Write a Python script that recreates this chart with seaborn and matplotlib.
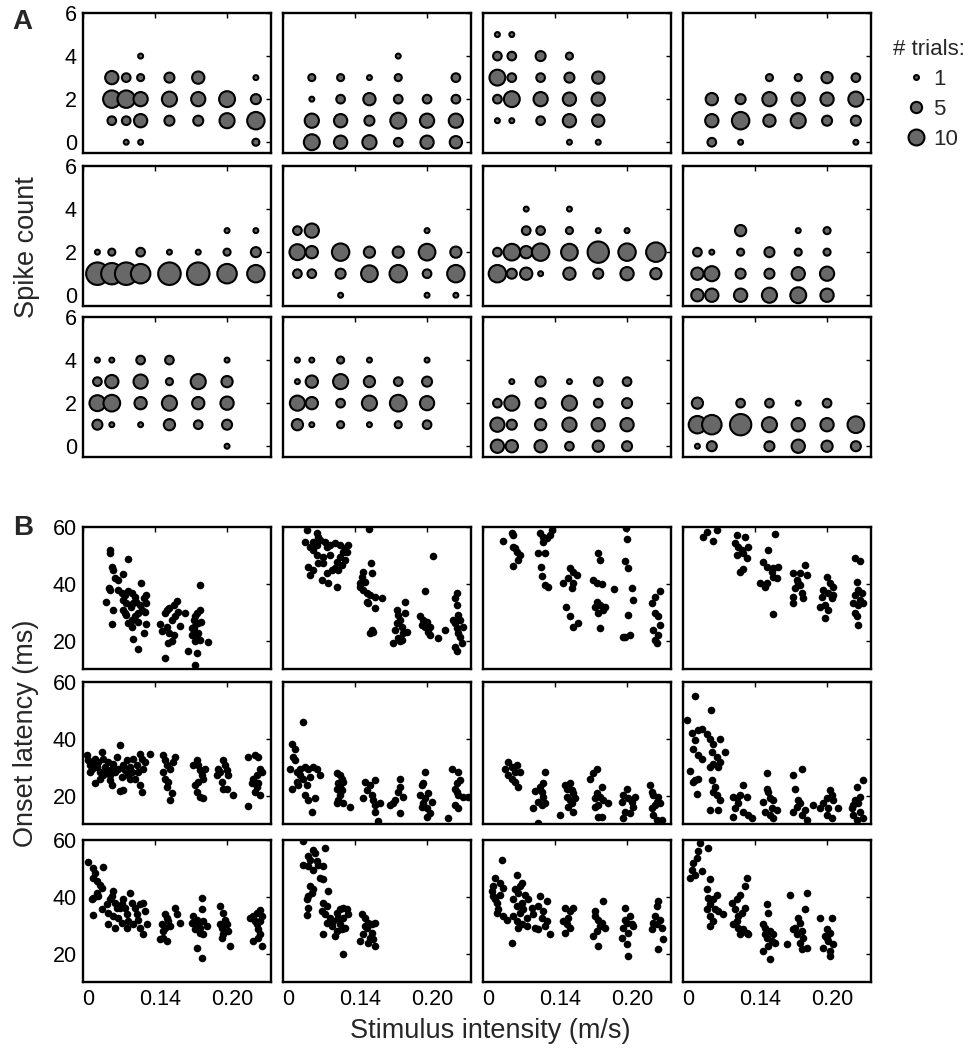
import numpy as np
import pandas as pd
import matplotlib
matplotlib.use('Agg')
import matplotlib.pyplot as plt
import matplotlib.transforms as mtransforms
from matplotlib.lines import Line2D
import seaborn as sns

# stimulus axis: level positions and labelled ticks
tick_pos = [0, 5, 10]
tick_labels = ['0', '0.14', '0.20']

# A: spike count histograms, (stimulus level, spike count, number of trials)
spikes_r1c1 = [(2,3,7),(2,2,12),(2,1,3),(3,3,3),(3,2,12),(3,1,3),(3,0,1),(4,4,1),(4,3,2),(4,2,8),(4,1,7),(4,0,1),
               (6,3,4),(6,2,9),(6,1,4),(8,3,6),(8,2,8),(8,1,4),(10,2,10),(10,1,9),(12,3,1),(12,2,4),(12,1,12),(12,0,2)]
spikes_r1c2 = [(2,3,2),(2,2,1),(2,1,8),(2,0,10),(4,3,2),(4,2,3),(4,1,7),(4,0,7),(6,3,1),(6,2,6),(6,1,4),(6,0,8),
               (8,4,1),(8,3,2),(8,2,3),(8,1,10),(8,0,3),(10,2,3),(10,1,8),(10,0,7),(12,3,3),(12,2,3),(12,1,8),(12,0,6)]
spikes_r1c3 = [(1,5,1),(1,4,3),(1,3,10),(1,2,3),(1,1,1),(2,5,1),(2,4,3),(2,3,3),(2,2,10),(2,1,1),(4,4,4),(4,3,3),
               (4,2,8),(4,1,3),(6,4,2),(6,3,4),(6,2,7),(6,1,7),(6,0,1),(8,3,6),(8,2,7),(8,1,6),(8,0,1)]
spikes_r1c4 = [(2,2,6),(2,1,7),(2,0,3),(4,2,4),(4,1,12),(4,0,1),(6,3,2),(6,2,8),(6,1,6),(8,3,2),(8,2,7),(8,1,9),
               (10,3,5),(10,2,7),(10,1,4),(12,3,3),(12,2,9),(12,1,4),(12,0,1)]
spikes_r2c1 = [(1,2,1),(1,1,20),(2,2,2),(2,1,18),(3,1,20),(4,2,3),(4,1,15),(6,2,1),(6,1,20),(8,2,1),(8,1,20),
               (10,3,1),(10,2,2),(10,1,15),(12,3,1),(12,2,4),(12,1,12)]
spikes_r2c2 = [(1,3,3),(1,2,10),(1,1,3),(2,3,8),(2,2,6),(2,1,3),(4,2,12),(4,1,4),(4,0,1),(6,2,5),(6,1,11),
               (8,2,5),(8,1,12),(10,3,1),(10,2,11),(10,1,3),(10,0,1),(12,2,5),(12,1,12),(12,0,1)]
spikes_r2c3 = [(1,2,3),(1,1,12),(2,2,11),(2,1,4),(3,4,1),(3,3,3),(3,2,6),(3,1,6),(4,3,3),(4,2,12),(4,1,1),
               (6,4,1),(6,3,2),(6,2,11),(6,1,6),(8,3,1),(8,2,18),(8,1,4),(10,3,1),(10,2,12),(10,1,7),(12,2,15),(12,1,5)]
spikes_r2c4 = [(1,2,3),(1,1,6),(1,0,6),(2,2,1),(2,1,9),(2,0,7),(4,3,5),(4,2,2),(4,1,4),(4,0,7),(6,2,4),(6,1,4),
               (6,0,9),(8,3,1),(8,2,2),(8,1,7),(8,0,10),(10,3,2),(10,2,2),(10,1,8),(10,0,7)]
spikes_r3c1 = [(1,4,1),(1,3,3),(1,2,10),(1,1,4),(2,4,1),(2,3,7),(2,2,11),(2,1,1),(4,4,3),(4,3,8),(4,2,6),(4,1,1),
               (6,4,3),(6,3,2),(6,2,9),(6,1,5),(8,3,9),(8,2,6),(8,1,3),(10,4,1),(10,3,5),(10,2,7),(10,1,4),(10,0,1)]
spikes_r3c2 = [(1,4,1),(1,3,1),(1,2,9),(1,1,5),(2,4,1),(2,3,6),(2,2,6),(2,1,1),(4,4,2),(4,3,9),(4,2,3),(4,1,2),
               (6,4,1),(6,3,5),(6,2,9),(6,1,1),(8,3,3),(8,2,11),(8,1,2),(10,4,1),(10,3,4),(10,2,8),(10,1,3)]
spikes_r3c3 = [(1,2,3),(1,1,8),(1,0,7),(2,3,1),(2,2,9),(2,1,4),(2,0,6),(4,3,4),(4,2,4),(4,1,5),(4,0,6),(6,3,1),
               (6,2,9),(6,1,8),(6,0,3),(8,3,3),(8,2,3),(8,1,7),(8,0,5),(10,3,3),(10,2,4),(10,1,7),(10,0,4)]
spikes_r3c4 = [(1,2,5),(1,1,12),(1,0,1),(2,1,15),(2,0,4),(4,2,3),(4,1,18),(6,2,3),(6,1,9),(6,0,4),(8,2,1),
               (8,1,7),(8,0,7),(10,2,3),(10,1,7),(10,0,5),(12,1,11),(12,0,4)]

# B: onset latency of single trials, (stimulus level, latency in ms)
latency_r1c1 = [(1.9,51.9),(1.9,51.0),(3.1,48.7),(2.0,46.0),(2.1,44.9),(2.8,43.4),(2.2,42.0),(2.4,41.4),(1.8,38.4),
    (1.9,37.8),(4.0,40.2),(1.6,33.5),(2.1,30.8),(2.0,25.9),(2.45,37.8),(2.7,36.7),(2.9,36.1),(3.15,37.3),(3.4,36.7),
    (3.6,35.5),(2.8,34.3),(3.0,33.2),(3.3,32.0),(3.5,33.2),(3.7,33.7),(3.96,32.6),(4.2,34.9),(4.4,36.1),(4.4,33.2),
    (4.3,30.2),(4.1,30.8),(3.8,29.6),(3.6,28.5),(3.4,27.3),(3.15,26.1),(3.4,24.9),(2.8,30.8),(2.9,29.6),(3.0,29.1),
    (3.8,26.7),(4.4,25.9),(3.5,20.5),(3.8,17.1),(4.2,22.8),(5.35,25.9),(5.5,23.4),(5.7,29.6),(5.8,30.8),(6.0,31.4),
    (6.3,32.6),(6.5,34.1),(6.4,28.5),(6.2,27.3),(5.8,24.9),(6.0,22.6),(6.3,22.0),(5.9,19.1),(6.2,19.7),(5.7,14.0),
    (6.7,25.3),(7.1,29.6),(6.6,30.2),(7.7,27.3),(7.8,28.5),(7.9,29.6),(8.1,30.8),(8.0,26.1),(7.7,24.9),(7.8,23.2),
    (8.0,22.6),(7.9,21.4),(8.1,20.3),(7.8,19.7),(7.55,22.0),(8.1,39.6),(8.7,19.4),(7.3,16.2),(7.9,15.8),(7.8,11.4),
    (8.2,26.7),(7.55,24.4)]
latency_r1c2 = [(1.64,58.9),(2.34,57.8),(2.45,56.6),(2.11,54.8),(1.88,53.1),(2.11,51.9),(2.34,53.7),(2.57,55.4),
    (2.92,54.8),(3.03,53.1),(3.26,53.7),(3.61,54.3),(3.96,53.7),(4.31,52.5),(4.54,53.7),(4.19,51.3),(3.96,49.6),
    (3.73,47.8),(4.07,46.6),(3.84,44.9),(3.61,45.5),(3.38,44.9),(3.03,43.7),(2.80,47.2),(2.45,47.2),(2.11,44.9),
    (1.88,43.1),(2.69,41.4),(3.15,40.2),(3.73,39.0),(1.53,54.8),(1.76,46.0),(2.80,49.6),(2.34,50.2),(3.26,50.2),
    (4.31,48.4),(4.42,51.3),(6.0,59.2),(6.09,47.2),(5.58,44.3),(5.46,42.5),(5.35,39.0),(5.58,37.8),(5.81,36.7),
    (6.04,36.1),(6.39,35.5),(6.85,34.9),(6.16,43.7),(5.81,33.7),(5.93,33.2),(6.39,31.4),(6.16,23.8),(6.04,22.6),
    (6.27,23.2),(5.35,40.2),(5.69,40.8),(8.47,33.7),(7.89,30.8),(8.01,29.1),(8.13,27.3),(8.24,24.9),(8.36,22.6),
    (7.89,26.1),(7.78,23.8),(7.66,19.1),(8.01,20.8),(8.24,20.3),(8.13,19.7),(8.59,23.2),(8.47,29.6),(10.44,49.9),
    (9.86,37.5),(9.51,28.5),(9.75,27.3),(9.98,26.7),(10.21,24.9),(10.09,23.2),(9.86,24.9),(9.63,25.5),(10.21,22.0),
    (10.79,20.8),(11.25,23.8),(12.06,36.7),(11.94,34.9),(12.06,32.6),(12.18,29.1),(12.29,27.3),(11.94,26.1),
    (12.06,24.4),(12.18,22.6),(12.29,21.4),(12.41,19.1),(11.94,17.9),(12.06,16.2),(12.52,24.9),(11.83,27.3)]
latency_r1c3 = [(1.41,55.1),(1.99,57.8),(2.11,57.2),(2.11,53.1),(2.22,52.5),(2.34,51.3),(2.57,50.2),(2.45,48.4),
    (2.11,46.3),(3.96,57.8),(4.19,56.6),(4.42,56.0),(4.65,57.2),(4.77,58.9),(4.19,54.8),(3.84,50.7),(4.31,50.7),
    (4.03,45.8),(4.07,42.9),(4.31,39.6),(4.54,39.0),(5.58,40.2),(5.93,41.9),(6.04,45.5),(6.27,44.3),(6.50,43.1),
    (6.27,40.2),(6.16,38.4),(5.76,31.7),(6.04,28.5),(6.27,24.9),(6.62,26.1),(7.66,41.4),(7.89,40.2),(8.24,40.0),
    (8.01,50.7),(8.13,48.4),(7.89,33.7),(7.78,32.0),(8.13,32.6),(8.36,30.8),(8.47,32.0),(8.01,29.6),(8.13,24.4),
    (9.93,59.8),(9.98,55.7),(9.86,48.0),(10.05,45.5),(10.32,38.4),(10.39,34.3),(10.09,29.1),(9.86,21.4),(10.21,22.0),
    (9.75,21.4),(9.12,38.2),(12.29,37.5),(11.94,35.5),(11.71,33.2),(11.94,29.6),(12.18,28.5),(12.29,25.5),
    (11.83,23.8),(11.94,20.3),(12.06,19.1),(12.18,22.0)]
latency_r1c4 = [(1.64,58.4),(1.41,56.4),(2.11,55.2),(2.34,58.9),(3.73,57.2),(4.31,56.6),(3.61,54.3),(3.84,53.1),
    (4.07,51.9),(3.73,50.2),(4.19,50.7),(4.42,49.0),(4.54,53.1),(3.96,44.3),(4.19,45.1),(6.39,57.4),(5.93,51.9),
    (5.58,47.8),(5.81,46.0),(6.27,45.5),(6.62,46.0),(6.16,44.3),(6.50,41.9),(6.27,42.5),(5.35,40.4),(5.69,39.0),
    (5.81,40.2),(6.23,29.4),(7.66,43.9),(8.13,43.7),(8.47,46.6),(8.59,43.1),(7.89,41.4),(8.13,39.6),(7.78,38.4),
    (8.24,36.7),(7.66,35.5),(8.36,34.9),(7.66,33.2),(8.01,40.2),(9.98,42.5),(10.21,40.2),(10.44,39.0),(9.75,37.8),
    (10.09,36.7),(9.63,35.5),(10.32,34.9),(9.86,32.6),(9.51,32.0),(9.86,27.9),(10.09,30.8),(10.44,36.1),(11.94,49.0),
    (12.29,48.0),(12.06,40.8),(12.18,37.8),(11.94,36.1),(12.41,36.7),(11.83,33.2),(12.52,33.4),(12.18,32.6),
    (11.94,29.6),(12.06,28.5),(12.18,25.5),(12.29,34.3)]
latency_r2c1 = [(0.25,34.2),(0.37,32.5),(0.49,30.7),(0.60,29.5),(0.72,31.3),(0.83,33.0),(0.95,30.1),(1.06,31.9),
    (1.18,28.4),(1.30,35.4),(1.41,33.0),(1.53,30.1),(1.64,29.0),(1.76,31.9),(1.88,27.2),(1.99,29.5),(2.11,31.3),
    (2.22,28.4),(2.34,33.6),(2.45,29.5),(2.57,37.7),(2.69,26.6),(2.80,30.7),(2.92,29.0),(3.03,32.5),(3.15,27.2),
    (3.26,30.1),(3.38,28.4),(3.50,33.0),(3.61,26.0),(3.73,30.7),(3.84,28.4),(3.96,34.8),(4.07,33.0),(4.19,29.5),
    (4.31,31.9),(4.65,34.8),(0.83,24.3),(1.99,23.7),(2.57,21.6),(2.80,22.0),(3.96,23.7),(4.07,21.4),(0.49,28.4),
    (1.18,26.0),(1.88,25.5),(3.26,26.0),(1.41,27.2),(5.69,32.5),(5.81,30.7),(6.04,29.5),(6.39,33.6),(5.58,28.4),
    (5.69,26.0),(5.93,24.9),(5.81,23.1),(6.16,20.8),(6.04,18.5),(6.27,31.9),(5.58,34.2),(7.89,32.5),(8.01,30.7),
    (8.13,29.0),(8.24,27.2),(8.36,26.0),(8.01,24.9),(7.78,23.7),(7.89,21.4),(8.13,19.6),(8.36,19.0),(8.47,29.5),
    (7.66,30.7),(9.40,29.5),(9.51,28.4),(9.75,32.5),(9.86,30.7),(9.98,29.0),(10.09,27.2),(9.63,24.9),(9.75,22.5),
    (9.98,22.5),(10.39,20.2),(9.28,27.2),(11.48,33.6),(11.94,34.2),(12.18,33.6),(12.29,29.5),(12.41,28.4),
    (12.06,27.2),(11.83,26.0),(11.71,24.3),(12.18,24.3),(11.94,21.4),(12.29,20.2),(12.06,23.1),(11.44,16.4)]
latency_r2c2 = [(1.41,45.9),(0.60,38.3),(0.83,36.5),(0.72,33.6),(0.49,29.5),(0.95,28.4),(1.18,29.5),(1.53,30.1),
    (1.76,29.5),(2.11,30.1),(2.34,29.5),(2.57,27.2),(1.88,26.6),(1.41,26.0),(0.95,24.9),(0.60,22.5),(1.06,23.7),
    (1.64,23.7),(1.53,20.2),(1.76,18.5),(1.99,14.4),(2.22,19.0),(0.83,32.5),(1.18,27.2),(3.73,27.8),(3.96,27.2),
    (4.07,26.0),(3.84,24.3),(4.19,24.9),(3.73,22.5),(4.07,22.0),(3.96,20.2),(3.84,18.5),(3.73,17.3),(4.19,17.3),
    (4.65,16.1),(3.96,23.1),(5.69,24.9),(6.04,23.7),(6.39,25.5),(5.81,22.0),(6.16,20.2),(5.58,19.0),(6.27,18.5),
    (6.39,16.7),(6.39,14.4),(6.62,11.0),(6.74,17.5),(7.43,16.7),(7.66,17.3),(8.01,21.4),(8.13,23.1),(8.36,19.6),
    (7.78,18.5),(8.13,26.0),(8.13,13.8),(9.86,28.4),(9.75,24.3),(9.63,23.7),(9.51,20.2),(9.86,19.0),(10.09,20.8),
    (10.32,17.9),(9.75,17.3),(9.98,15.5),(10.21,13.8),(9.98,12.6),(9.63,16.1),(11.48,12.0),(11.71,29.5),(12.18,28.4),
    (12.29,25.5),(12.06,24.3),(11.94,22.5),(12.18,20.2),(12.52,19.6),(12.87,19.4),(11.94,16.7),(12.18,15.5),
    (12.06,21.4)]
latency_r2c3 = [(1.76,31.9),(1.53,29.5),(1.99,30.1),(2.34,30.7),(2.57,28.4),(1.76,27.2),(1.99,26.0),(2.22,24.9),
    (2.45,23.1),(2.22,28.4),(4.31,28.4),(4.19,24.3),(3.96,23.1),(4.07,21.4),(3.61,21.6),(4.19,19.6),(3.84,17.9),
    (3.50,15.5),(4.07,16.7),(4.31,17.3),(3.84,10.3),(5.69,23.7),(6.04,24.3),(6.16,22.0),(6.27,20.8),(5.81,19.6),
    (6.04,18.5),(6.39,19.0),(6.16,17.3),(5.93,16.1),(6.27,14.4),(5.35,13.2),(5.81,22.2),(7.89,29.5),(7.66,27.8),
    (7.43,26.0),(8.24,23.1),(7.89,20.8),(7.78,19.0),(8.13,19.6),(8.36,18.5),(8.01,16.7),(7.78,16.1),(8.01,12.6),
    (8.24,12.6),(8.70,17.3),(9.98,22.5),(9.75,20.2),(10.09,19.0),(9.63,17.9),(10.32,17.9),(10.44,16.1),(9.86,14.4),
    (10.21,13.8),(9.75,12.0),(10.56,19.6),(11.60,23.7),(11.71,21.4),(11.83,20.2),(12.18,19.6),(12.06,17.9),
    (11.94,16.7),(12.29,17.3),(11.71,15.5),(11.83,13.2),(12.06,11.5),(12.41,11.5)]
latency_r2c4 = [(0.83,55.0),(1.92,50.2),(0.25,46.7),(0.60,42.1),(1.06,43.0),(1.30,43.5),(0.83,39.5),(0.72,36.5),
    (1.06,34.2),(1.30,33.0),(1.64,41.8),(1.88,40.0),(2.11,38.3),(2.57,40.0),(2.92,35.4),(1.99,35.4),(2.34,33.6),
    (2.57,31.9),(2.11,31.3),(2.45,30.1),(0.49,28.6),(0.83,25.5),(1.06,26.0),(0.72,24.9),(1.88,30.1),(1.99,25.5),
    (2.22,23.1),(2.11,21.4),(2.34,20.2),(2.57,18.5),(0.95,20.4),(1.88,15.0),(2.41,15.0),(3.50,19.6),(3.73,19.0),
    (3.96,20.2),(4.19,23.7),(4.42,19.6),(3.84,17.3),(3.61,15.5),(4.19,14.4),(3.50,12.6),(4.54,13.2),(4.77,12.0),
    (5.86,28.0),(5.81,22.5),(5.93,21.4),(6.04,19.0),(6.27,18.5),(5.58,17.9),(6.16,15.5),(6.50,15.0),(6.04,13.2),
    (6.27,12.0),(5.69,14.4),(7.66,27.2),(8.24,29.5),(7.78,22.5),(8.01,18.5),(8.13,17.3),(7.89,16.1),(8.47,15.0),
    (7.66,14.4),(8.24,13.2),(8.59,11.5),(9.05,16.7),(10.21,22.0),(9.98,19.0),(10.32,20.2),(10.44,18.5),(9.75,17.3),
    (10.09,15.5),(10.79,15.5),(9.98,13.2),(9.51,15.5),(10.32,12.0),(12.52,25.5),(12.06,23.1),(12.29,19.6),
    (11.94,18.5),(12.18,17.3),(11.71,15.5),(12.29,14.4),(11.83,13.2),(12.52,12.0),(12.06,11.5),(11.83,16.7)]
latency_r3c1 = [(0.37,52.2),(0.72,50.2),(0.83,48.4),(0.72,46.7),(0.95,45.5),(1.18,44.3),(1.30,43.2),(0.95,41.4),
    (0.72,39.6),(0.60,39.1),(1.06,40.2),(1.41,50.4),(0.72,33.5),(1.30,35.6),(1.64,37.3),(1.88,39.1),(1.99,40.2),
    (2.11,42.0),(2.22,37.9),(2.34,36.1),(1.76,34.4),(2.11,33.2),(1.76,30.3),(2.22,29.1),(2.57,36.1),(2.69,37.3),
    (2.80,39.1),(2.92,36.1),(3.03,33.8),(3.15,31.5),(3.26,41.4),(3.38,37.9),(3.61,36.1),(3.73,33.8),(3.84,32.0),
    (3.96,29.1),(4.19,26.8),(4.42,30.3),(4.19,37.9),(4.31,35.0),(3.03,29.1),(2.69,30.9),(3.50,30.3),(3.96,37.3),
    (2.45,32.6),(5.35,25.0),(5.58,25.6),(5.46,30.3),(5.69,33.8),(5.81,32.6),(5.93,31.5),(6.04,29.7),(6.39,36.1),
    (6.50,33.8),(6.74,30.9),(5.69,29.1),(5.81,24.4),(5.58,28.0),(7.66,33.2),(7.89,32.0),(8.01,30.3),(8.13,29.1),
    (8.24,35.6),(8.24,39.6),(8.36,31.5),(8.59,29.7),(7.78,28.5),(8.13,27.4),(8.36,26.8),(7.89,22.1),(8.24,18.6),
    (7.55,30.9),(9.51,36.7),(9.75,34.4),(9.86,32.0),(9.98,30.3),(10.09,28.0),(9.63,29.1),(9.75,26.8),(9.51,30.3),
    (10.21,22.7),(9.63,25.6),(11.60,32.6),(11.83,33.2),(12.06,34.4),(12.29,35.2),(12.41,33.2),(12.06,30.3),
    (12.18,28.5),(12.29,26.8),(12.18,25.6),(11.83,24.4),(12.41,22.7),(11.94,31.5),(12.29,31.5)]
latency_r3c2 = [(1.41,59.8),(2.11,56.6),(2.22,55.4),(1.76,54.3),(1.88,53.1),(2.34,52.5),(1.41,51.3),(1.76,50.8),
    (2.11,49.6),(2.45,51.3),(2.80,50.8),(2.92,57.2),(2.57,46.7),(2.80,46.1),(1.88,43.7),(2.11,42.6),(1.76,40.2),
    (1.64,39.1),(1.99,41.4),(1.76,36.1),(1.64,33.6),(3.15,42.0),(2.80,37.9),(3.03,36.7),(2.69,35.0),(2.92,33.8),
    (3.26,32.6),(3.50,31.5),(3.73,34.4),(3.96,35.6),(4.19,36.1),(4.42,35.6),(4.54,33.8),(4.19,32.6),(3.96,30.3),
    (4.31,29.1),(3.73,28.0),(3.38,29.7),(3.03,30.9),(3.61,26.2),(2.80,27.0),(4.19,20.0),(4.07,28.5),(3.84,32.6),
    (5.46,33.8),(5.69,32.6),(5.93,30.9),(6.16,30.3),(6.39,30.9),(5.81,29.1),(6.16,27.4),(5.58,26.8),(6.27,25.0),
    (5.35,24.4),(5.93,23.9),(6.39,22.7),(6.04,25.6),(5.69,29.7)]
latency_r3c3 = [(1.30,52.9),(0.83,46.7),(0.72,43.7),(0.60,42.0),(0.72,40.2),(0.83,39.1),(0.95,37.9),(1.18,44.9),
    (1.41,43.2),(1.18,40.8),(1.06,35.6),(1.41,33.2),(0.95,34.4),(2.34,47.8),(2.69,44.9),(2.22,42.6),(2.45,41.4),
    (2.57,43.7),(2.11,39.1),(2.34,36.7),(2.69,37.9),(2.92,40.8),(3.15,39.1),(2.57,34.4),(2.11,33.2),(2.80,35.6),
    (3.03,32.6),(2.34,31.5),(2.69,30.3),(3.03,29.7),(1.99,23.9),(2.45,29.1),(1.64,32.0),(3.38,36.1),(3.50,33.8),
    (3.96,40.2),(4.42,38.5),(3.84,36.7),(4.19,35.0),(4.07,32.6),(4.42,31.5),(4.31,29.7),(3.84,28.5),(4.65,26.8),
    (3.61,29.1),(5.69,36.1),(6.04,35.0),(5.93,32.6),(5.81,30.3),(6.04,29.1),(5.69,27.4),(6.27,36.1),(5.58,31.5),
    (7.78,35.0),(8.36,38.5),(8.01,32.0),(8.13,29.7),(7.89,28.0),(8.47,29.1),(8.24,30.9),(7.66,26.2),(8.01,22.7),
    (7.78,33.2),(9.86,36.1),(10.21,33.2),(9.98,30.9),(10.44,29.7),(9.75,29.1),(10.09,27.4),(10.32,30.3),(9.63,25.6),
    (9.98,23.3),(10.09,19.2),(9.86,32.0),(12.18,38.5),(12.06,36.7),(11.94,33.2),(12.29,32.0),(12.06,30.3),
    (11.71,28.5),(12.41,29.1),(12.52,25.0),(12.18,21.5),(11.83,30.9)]
latency_r3c4 = [(1.18,58.9),(1.06,56.0),(0.95,53.7),(0.72,51.9),(0.60,49.6),(0.83,47.8),(0.49,46.7),(1.30,49.0),
    (1.76,57.2),(1.88,46.1),(1.64,42.6),(1.76,39.6),(1.88,37.3),(2.11,39.1),(2.34,40.8),(1.64,35.6),(1.88,33.2),
    (2.11,31.5),(1.88,29.7),(2.45,35.0),(2.80,33.8),(2.22,35.6),(3.38,37.9),(3.73,39.1),(3.96,40.8),(4.31,43.7),
    (4.42,46.7),(3.61,35.6),(3.84,33.2),(4.07,34.4),(4.31,36.1),(3.73,31.5),(3.84,29.1),(4.19,28.5),(4.42,27.4),
    (4.54,26.8),(3.96,26.8),(3.50,30.3),(5.58,30.3),(5.81,37.3),(5.93,34.4),(5.69,29.1),(6.04,28.0),(6.27,26.8),
    (5.81,25.6),(6.16,24.4),(5.93,22.7),(5.58,20.9),(6.39,23.9),(6.04,18.0),(5.69,26.8),(7.43,40.8),(8.59,41.4),
    (8.47,35.6),(8.01,32.6),(8.13,30.9),(7.78,29.1),(8.24,28.0),(7.89,26.8),(8.36,25.6),(8.13,23.9),(8.59,22.1),
    (8.24,21.5),(7.20,23.3),(7.66,28.5),(9.51,32.6),(10.32,32.6),(9.98,28.5),(10.21,27.4),(9.86,26.2),(10.09,24.4),
    (10.44,23.3),(9.75,22.1),(10.21,20.9),(10.21,19.2),(9.98,25.6)]

legend_counts = [1, 5, 10]

spike_panels = [[spikes_r1c1, spikes_r1c2, spikes_r1c3, spikes_r1c4],
                [spikes_r2c1, spikes_r2c2, spikes_r2c3, spikes_r2c4],
                [spikes_r3c1, spikes_r3c2, spikes_r3c3, spikes_r3c4]]
latency_panels = [[latency_r1c1, latency_r1c2, latency_r1c3, latency_r1c4],
                  [latency_r2c1, latency_r2c2, latency_r2c3, latency_r2c4],
                  [latency_r3c1, latency_r3c2, latency_r3c3, latency_r3c4]]

sns.set_style('white')
plt.rcParams['font.family'] = ['Liberation Sans', 'DejaVu Sans']

W, H = 969, 1050
fig = plt.figure(figsize=(W / 100, H / 100), dpi=100)

col_left = [83, 283, 483, 683]
panel_w = 188
a_top, a_h = [13, 166, 317], 140
b_top, b_h = [527, 682, 840], 142

bubble_sizes = (12.5, 263)
bubble_norm = (1, 20)
fill_grey = '#686868'
label_shift = mtransforms.ScaledTranslation(0.05, 0, fig.dpi_scale_trans)


def make_ax(left, top, h):
    return fig.add_axes([left / W, 1 - (top + h) / H, panel_w / W, h / H])


def style(ax, ylim, yticks, first_col, x_labels):
    ax.set_xlim(0, 13.05)
    ax.set_ylim(*ylim)
    ax.set_xticks(tick_pos)
    ax.set_yticks(yticks)
    ax.tick_params(direction='in', top=True, right=True, length=3.5, width=1,
                   labelsize=15.5, colors='black', pad=4.5)
    ax.tick_params(axis='x', pad=5)
    for sp in ax.spines.values():
        sp.set_linewidth(1.7)
        sp.set_color('black')
    ax.set_xlabel('')
    ax.set_ylabel('')
    if x_labels:
        ax.set_xticklabels(tick_labels)
        for lab in ax.get_xticklabels():
            lab.set_transform(lab.get_transform() + label_shift)
    else:
        ax.set_xticklabels([])
    if not first_col:
        ax.set_yticklabels([])


# A: spike count bubbles
for r in range(3):
    for c in range(4):
        ax = make_ax(col_left[c], a_top[r], a_h)
        df = pd.DataFrame(spike_panels[r][c], columns=['stim', 'spikes', 'trials'])
        sns.scatterplot(data=df, x='stim', y='spikes', size='trials', sizes=bubble_sizes,
                        size_norm=bubble_norm, color=fill_grey, edgecolor='black',
                        linewidth=1.5, legend=False, ax=ax)
        style(ax, (-0.5, 6), [0, 2, 4, 6], c == 0, False)

# B: onset latency per trial
for r in range(3):
    for c in range(4):
        ax = make_ax(col_left[c], b_top[r], b_h)
        df = pd.DataFrame(latency_panels[r][c], columns=['stim', 'latency'])
        sns.scatterplot(data=df, x='stim', y='latency', color='black', s=30,
                        linewidth=0, legend=False, ax=ax)
        style(ax, (10, 60), [20, 40, 60], c == 0, r == 2)

# bubble size legend
s_lo, s_hi = bubble_sizes
handles = []
for n in legend_counts:
    s = s_lo + (n - bubble_norm[0]) / (bubble_norm[1] - bubble_norm[0]) * (s_hi - s_lo)
    handles.append(Line2D([], [], linestyle='none', marker='o', markersize=np.sqrt(s),
                          markerfacecolor=fill_grey, markeredgecolor='black', markeredgewidth=1.5))
fig.legend(handles, [str(n) for n in legend_counts], title='# trials:', loc='upper left',
           bbox_to_anchor=(882 / W, 1 - 28 / H), frameon=False, fontsize=16, title_fontsize=16,
           handletextpad=0.1, labelspacing=0.4, borderpad=0, handlelength=1.4)

fig.text(22 / W, 1 - 22 / H, 'A', fontsize=20, fontweight='bold', ha='center', va='center')
fig.text(23 / W, 1 - 528 / H, 'B', fontsize=20, fontweight='bold', ha='center', va='center')
fig.text(27 / W, 1 - 247 / H, 'Spike count', fontsize=19.5, rotation=90, ha='center', va='center')
fig.text(26 / W, 1 - 733 / H, 'Onset latency (ms)', fontsize=19.5, rotation=90, ha='center', va='center')
fig.text(490 / W, 1 - 1031 / H, 'Stimulus intensity (m/s)', fontsize=19.5, ha='center', va='center')

fig.savefig('out.png', dpi=100)
